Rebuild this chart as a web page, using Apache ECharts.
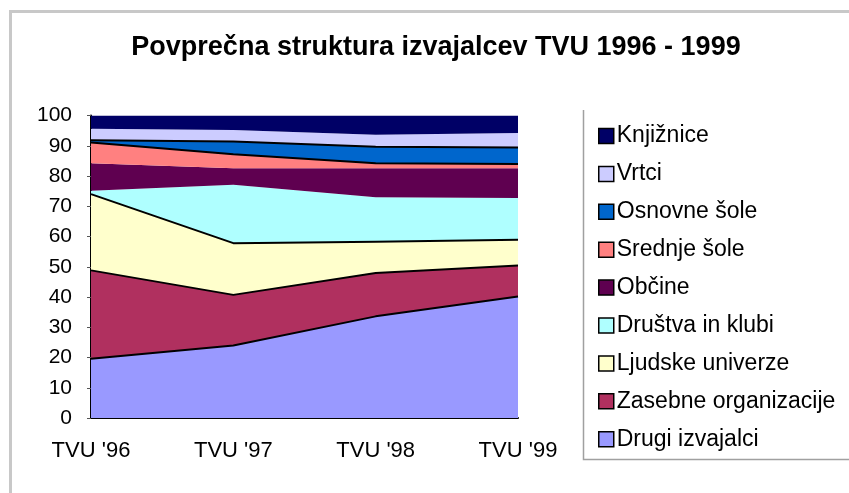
<!DOCTYPE html>
<html><head><meta charset="utf-8">
<script src="https://cdn.jsdelivr.net/npm/echarts@6/dist/echarts.min.js"></script>
<style>html,body{margin:0;padding:0;background:#fff}#c{width:849px;height:493px}</style>
</head><body><div id="c"></div>
<script>
const categories = ["TVU '96", "TVU '97", "TVU '98", "TVU '99"];
const yTicks = [0, 10, 20, 30, 40, 50, 60, 70, 80, 90, 100];
const drugi      = [19.6, 24.0, 33.6, 40.2];
const zasebne    = [29.2, 16.7, 14.3, 10.2];
const ljudske    = [25.2, 17.1, 10.4, 8.5];
const drustva    = [1.1, 19.3, 14.7, 13.8];
const obcine     = [9.1, 5.5, 9.6, 9.9];
const srednje    = [6.9, 4.6, 1.6, 1.4];
const osnovne    = [0.7, 4.2, 5.5, 5.4];
const vrtci      = [3.8, 3.8, 3.9, 4.8];
const knjiznice  = [4.4, 4.8, 6.4, 5.8];

const seriesDefs = [
  {name: 'Drugi izvajalci', data: drugi, color: '#9999FF', line: true},
  {name: 'Zasebne organizacije', data: zasebne, color: '#B0305F', line: true},
  {name: 'Ljudske univerze', data: ljudske, color: '#FFFFCC', line: true},
  {name: 'Društva in klubi', data: drustva, color: '#AFFFFF', line: false},
  {name: 'Občine', data: obcine, color: '#5F0050', line: false},
  {name: 'Srednje šole', data: srednje, color: '#FF8080', line: true},
  {name: 'Osnovne šole', data: osnovne, color: '#0066CC', line: true},
  {name: 'Vrtci', data: vrtci, color: '#CCCCFF', line: false},
  {name: 'Knjižnice', data: knjiznice, color: '#000066', line: false}
];

const chart = echarts.init(document.getElementById('c'), null, {renderer: 'canvas'});
const FONT = 'Liberation Sans, Arial, sans-serif';
chart.setOption({
  animation: false,
  title: {
    text: 'Povprečna struktura izvajalcev TVU 1996 - 1999',
    left: 431, textAlign: 'center', top: 29,
    textStyle: {fontFamily: FONT, fontWeight: 'bold', fontSize: 27, color: '#000'}
  },
  graphic: [
    {type: 'rect', left: 8, top: 9, shape: {width: 900, height: 600}, style: {fill: 'none', stroke: '#c8c8c8', lineWidth: 3}, z: -1},
    {type: 'polyline', shape: {points: [[583.5, 110], [583.5, 459.5], [849, 459.5]]}, style: {fill: 'none', stroke: '#a0a0a0', lineWidth: 1.5}, z: -1}
  ],
  legend: {
    orient: 'vertical', left: 593, top: 119.5,
    itemWidth: 15, itemHeight: 15, itemGap: 14.9,
    data: seriesDefs.slice().reverse().map(s => ({name: s.name, icon: 'rect'})),
    itemStyle: {borderColor: '#000', borderWidth: 1.5},
    textStyle: {fontFamily: FONT, fontSize: 23, color: '#000', lineHeight: 23, padding: [0,0,0,-2]}
  },
  grid: {left: 91, right: 331, top: 115.5, bottom: 75, containLabel: false},
  xAxis: {
    type: 'category', data: categories, boundaryGap: false,
    axisLine: {lineStyle: {color: '#000', width: 2}},
    axisTick: {show: false},
    axisLabel: {fontFamily: FONT, fontSize: 22, color: '#000', margin: 22},
    splitLine: {show: false}
  },
  yAxis: {
    type: 'value', min: yTicks[0], max: yTicks[yTicks.length-1], interval: 10,
    axisLine: {show: true, lineStyle: {color: '#000', width: 2}},
    axisTick: {show: true, length: 4, lineStyle: {color: '#555'}},
    axisLabel: {fontFamily: FONT, fontSize: 21, color: '#000', margin: 19},
    splitLine: {show: false}
  },
  series: seriesDefs.map(s => ({
    name: s.name, type: 'line', stack: 'total', data: s.data,
    symbol: 'none', color: s.color,
    lineStyle: s.line ? {color: '#000', width: 2} : {width: 0, color: s.color},
    areaStyle: {color: s.color, opacity: 1},
    itemStyle: {color: s.color}
  }))
});
</script></body></html>
